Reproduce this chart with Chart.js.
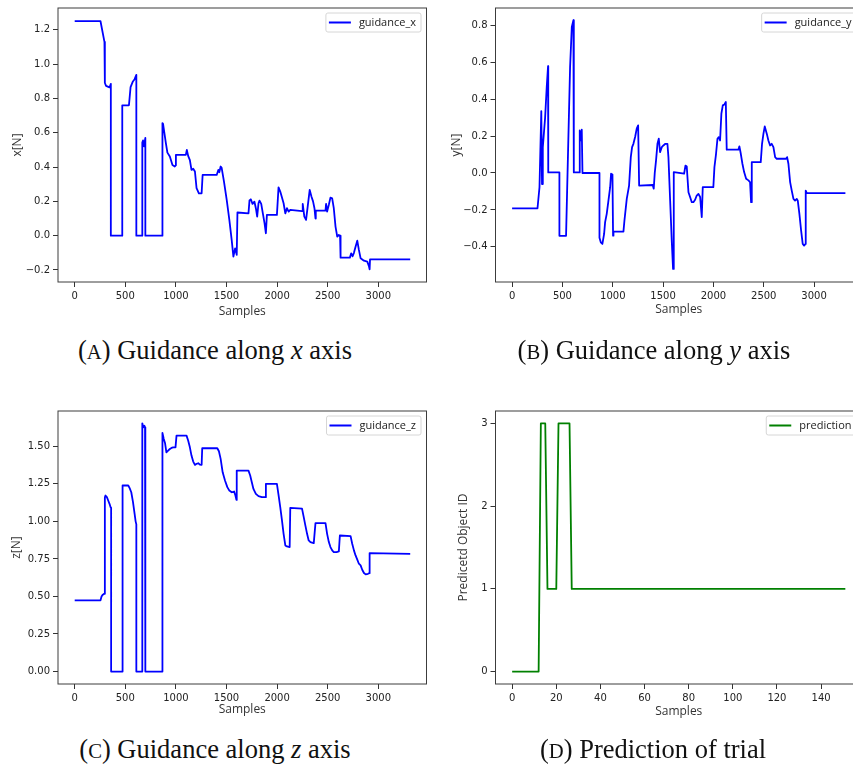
<!DOCTYPE html>
<html>
<head>
<meta charset="utf-8">
<script src="https://cdn.jsdelivr.net/npm/chart.js@4.4.1/dist/chart.umd.min.js"></script>
<style>
  html, body { margin: 0; padding: 0; background: #fff; }
  #page { position: relative; width: 853px; height: 767px; overflow: hidden; }
  .panel { position: absolute; }
  .caption {
    position: absolute; width: 430px; height: 30px; line-height: 30px;
    text-align: center; font-family: "Liberation Serif", serif; font-size: 26.5px; color: #111;
  }
  .sc { font-size: 0.78em; }
</style>
</head>
<body>
<div id="page">
  <div class="panel" style="left:0;top:0"><canvas id="guidanceXChart" width="432" height="330"></canvas></div>
  <div class="panel" style="left:430px;top:0"><canvas id="guidanceYChart" width="440" height="330"></canvas></div>
  <div class="panel" style="left:0;top:400px"><canvas id="guidanceZChart" width="432" height="330"></canvas></div>
  <div class="panel" style="left:430px;top:400px"><canvas id="predictionChart" width="440" height="330"></canvas></div>

  <div class="caption" style="left:0;top:335px">(<span class="sc">A</span>) Guidance along <i>x</i> axis</div>
  <div class="caption" style="left:439px;top:335px">(<span class="sc">B</span>) Guidance along <i>y</i> axis</div>
  <div class="caption" style="left:0;top:734px">(<span class="sc">C</span>) Guidance along <i>z</i> axis</div>
  <div class="caption" style="left:438px;top:734px">(<span class="sc">D</span>) Prediction of trial</div>
</div>

<script>
// guidance along x
const samplesX = [
  0, 255, 294, 298, 310, 344, 357, 357, 470, 470,
  536, 552, 575, 592, 609, 609, 668, 668, 675, 685,
  698, 698, 867, 867, 873, 900, 916, 940, 966, 989,
  999, 1000, 1098, 1108, 1121, 1138, 1154, 1171, 1188, 1204,
  1227, 1254, 1264, 1403, 1419, 1429, 1442, 1452, 1475, 1502,
  1528, 1551, 1568, 1585, 1601, 1608, 1717, 1727, 1740, 1757,
  1776, 1790, 1803, 1816, 1826, 1843, 1859, 1876, 1889, 1899,
  1998, 2014, 2031, 2048, 2064, 2081, 2097, 2114, 2130, 2246,
  2253, 2269, 2286, 2302, 2322, 2339, 2355, 2369, 2379, 2382,
  2478, 2484, 2494, 2511, 2527, 2544, 2560, 2577, 2594, 2610,
  2622, 2627, 2719, 2732, 2746, 2759, 2775, 2792, 2808, 2825,
  2858, 2891, 2908, 2914, 2918, 3315
];
const guidanceX = [
  1.25, 1.25, 1.13, 0.89, 0.873, 0.864, 0.885, 0, 0, 0.76,
  0.76, 0.866, 0.899, 0.912, 0.937, 0, 0, 0.543, 0.555, 0.52,
  0.57, 0, 0, 0.656, 0.652, 0.543, 0.484, 0.461, 0.412, 0.403,
  0.41, 0.471, 0.471, 0.5, 0.465, 0.44, 0.383, 0.39, 0.374, 0.277,
  0.247, 0.247, 0.354, 0.354, 0.383, 0.37, 0.403, 0.395, 0.315, 0.208,
  0.092, -0.025, -0.122, -0.074, -0.112, 0.135, 0.13, 0.205, 0.212, 0.185,
  0.198, 0.16, 0.111, 0.189, 0.204, 0.185, 0.13, 0.072, 0.014, 0.121,
  0.121, 0.282, 0.257, 0.222, 0.189, 0.13, 0.16, 0.14, 0.15, 0.143,
  0.185, 0.111, 0.092, 0.169, 0.267, 0.228, 0.2, 0.16, 0.1, 0.146,
  0.146, 0.185, 0.14, 0.18, 0.222, 0.218, 0.16, 0.053, -0.006, 0.004,
  0, -0.128, -0.128, -0.103, -0.12, -0.1, -0.064, -0.029, -0.083, -0.132,
  -0.146, -0.151, -0.18, -0.196, -0.138, -0.138
];

// guidance along y
const samplesY = [
  0, 252, 272, 290, 297, 305, 328, 344, 357, 359,
  470, 470, 536, 560, 576, 593, 609, 613, 669, 672,
  682, 692, 699, 868, 868, 881, 897, 914, 924, 940,
  957, 974, 983, 997, 1003, 1007, 1106, 1116, 1139, 1162,
  1179, 1192, 1205, 1222, 1238, 1252, 1262, 1397, 1407, 1417,
  1430, 1444, 1457, 1470, 1487, 1503, 1523, 1543, 1553, 1570,
  1586, 1599, 1606, 1709, 1722, 1735, 1752, 1768, 1785, 1801,
  1818, 1834, 1851, 1868, 1884, 1894, 1999, 2010, 2026, 2040,
  2053, 2066, 2079, 2093, 2109, 2123, 2132, 2248, 2258, 2272,
  2288, 2305, 2325, 2348, 2364, 2374, 2381, 2470, 2483, 2497,
  2510, 2530, 2546, 2563, 2579, 2596, 2613, 2629, 2722, 2732,
  2745, 2762, 2778, 2795, 2811, 2828, 2838, 2854, 2871, 2887,
  2901, 2914, 2917, 2927, 3311
];
const guidanceY = [
  -0.192, -0.192, -0.077, 0.335, -0.06, 0.14, 0.30, 0.466, 0.578, 0.003,
  0.003, -0.34, -0.34, 0.213, 0.574, 0.79, 0.827, 0.003, 0.003, 0.23,
  0.176, 0.234, 0, 0, -0.35, -0.375, -0.384, -0.33, -0.266, -0.221,
  -0.149, -0.077, -0.004, -0.008, -0.339, -0.317, -0.317, -0.257, -0.14, -0.068,
  0.086, 0.14, 0.158, 0.195, 0.24, 0.258, -0.068, -0.065, -0.085, 0,
  0.068, 0.158, 0.186, 0.113, 0.14, 0.149, 0.158, 0.158, 0.086, -0.149,
  -0.366, -0.519, 0.005, -0.004, 0.04, 0.035, -0.104, -0.13, -0.158, -0.158,
  -0.145, -0.122, -0.113, -0.13, -0.239, -0.077, -0.077, 0.032, 0.104, 0.185,
  0.194, 0.176, 0.321, 0.366, 0.371, 0.384, 0.126, 0.126, 0.144, 0.104,
  0.05, 0.005, -0.031, -0.04, -0.05, -0.158, 0.059, 0.059, 0.158, 0.213,
  0.252, 0.213, 0.176, 0.149, 0.158, 0.14, 0.086, 0.077, 0.077, 0.086,
  0.05, -0.049, -0.095, -0.14, -0.149, -0.14, -0.15, -0.221, -0.311, -0.384,
  -0.393, -0.384, -0.095, -0.109, -0.109
];

// guidance along z
const samplesZ = [
  0, 255, 265, 278, 291, 298, 304, 318, 331, 344,
  354, 360, 360, 470, 473, 529, 543, 559, 576, 592,
  602, 609, 609, 668, 668, 678, 688, 695, 698, 698,
  867, 867, 880, 893, 906, 923, 940, 956, 973, 996,
  1006, 1105, 1121, 1138, 1154, 1171, 1188, 1204, 1221, 1237,
  1254, 1260, 1409, 1425, 1442, 1462, 1485, 1508, 1528, 1551,
  1575, 1588, 1598, 1601, 1717, 1734, 1750, 1766, 1790, 1816,
  1849, 1882, 1889, 1998, 2015, 2031, 2048, 2064, 2081, 2097,
  2124, 2130, 2246, 2263, 2279, 2296, 2312, 2329, 2362, 2379,
  2478, 2494, 2511, 2527, 2544, 2560, 2587, 2610, 2620, 2726,
  2742, 2759, 2775, 2792, 2808, 2825, 2841, 2858, 2875, 2898,
  2911, 2914, 3315
];
const guidanceZ = [
  0.474, 0.474, 0.5, 0.512, 0.518, 1.161, 1.172, 1.161, 1.139, 1.117,
  1.095, 1.09, 0, 0, 1.239, 1.239, 1.221, 1.194, 1.128, 1.05,
  1.0, 0.98, 0, 0, 1.653, 1.626, 1.637, 1.626, 1.62, 0,
  0, 1.589, 1.549, 1.52, 1.46, 1.471, 1.482, 1.489, 1.493, 1.493,
  1.571, 1.571, 1.538, 1.493, 1.438, 1.398, 1.376, 1.383, 1.387, 1.378,
  1.376, 1.487, 1.487, 1.467, 1.416, 1.327, 1.272, 1.228, 1.205, 1.194,
  1.199, 1.172, 1.143, 1.338, 1.338, 1.305, 1.261, 1.216, 1.183, 1.168,
  1.161, 1.161, 1.25, 1.25, 1.172, 1.095, 1.006, 0.917, 0.84, 0.833,
  0.829, 1.09, 1.085, 1.028, 0.973, 0.917, 0.873, 0.862, 0.855, 0.988,
  0.988, 0.917, 0.862, 0.829, 0.807, 0.795, 0.795, 0.8, 0.906, 0.902,
  0.851, 0.807, 0.773, 0.745, 0.718, 0.707, 0.678, 0.656, 0.647, 0.651,
  0.655, 0.789, 0.784
];

// predicted object per sample (only the points where it changes)
const samplesPred = [0, 12, 13, 15, 16, 20, 21, 26, 27, 151];
const prediction  = [0, 0, 3, 3, 1, 1, 3, 3, 1, 1];

// tick positions
const xTicksGuidance = [0, 500, 1000, 1500, 2000, 2500, 3000];
const yTicksX = [-0.2, 0, 0.2, 0.4, 0.6, 0.8, 1.0, 1.2];
const yTicksY = [-0.4, -0.2, 0, 0.2, 0.4, 0.6, 0.8];
const yTicksZ = [0, 0.25, 0.5, 0.75, 1.0, 1.25, 1.5];
const xTicksPred = [0, 20, 40, 60, 80, 100, 120, 140];
const yTicksPred = [0, 1, 2, 3];

const tickFont = { family: 'DejaVu Sans', size: 10 };
const titleFont = { family: 'Open Sans', size: 12 };

// matplotlib style box: all four spines
const axesFrame = {
    id: 'axesFrame',
    afterDraw(chart) {
        const { ctx, chartArea: a } = chart;
        ctx.save();
        ctx.strokeStyle = '#3c3c3c';
        ctx.lineWidth = 1;
        ctx.strokeRect(a.left, a.top, a.right - a.left, a.bottom - a.top);
        ctx.restore();
    }
};

// legend in the upper right corner of the plot, with a light frame
const boxedLegend = {
    id: 'boxedLegend',
    afterDraw(chart) {
        const ds = chart.data.datasets[0];
        const { ctx, chartArea: a } = chart;
        ctx.save();
        ctx.font = '11px "Open Sans"';
        const textW = ctx.measureText(ds.label).width;
        const h = 19;
        const w = 3 + 22 + 8 + textW + 5;
        const x = a.right - 5.5 - w;
        const y = a.top + 5;
        ctx.beginPath();
        ctx.roundRect(x, y, w, h, 2);
        ctx.fillStyle = 'rgba(255, 255, 255, 0.8)';
        ctx.fill();
        ctx.strokeStyle = '#d6d6d6';
        ctx.lineWidth = 1;
        ctx.stroke();
        ctx.beginPath();
        ctx.moveTo(x + 3, y + h / 2);
        ctx.lineTo(x + 25, y + h / 2);
        ctx.strokeStyle = ds.borderColor;
        ctx.lineWidth = 2;
        ctx.stroke();
        ctx.fillStyle = '#222';
        ctx.textBaseline = 'middle';
        ctx.fillText(ds.label, x + 33, y + h / 2 + 0.5);
        ctx.restore();
    }
};

function fmt(v, decimals) {
    return v.toFixed(decimals).replace('-', '\u2212');
}

function buildPanel(id, cfg) {
    const canvas = document.getElementById(id);
    const ctx = canvas.getContext('2d');
    const W = canvas.width, H = canvas.height;
    const area = cfg.area;
    const points = cfg.samples.map((s, i) => ({ x: s, y: cfg.values[i] }));

    return new Chart(ctx, {
        type: 'line',
        data: {
            datasets: [{
                label: cfg.label,
                data: points,
                borderColor: cfg.color,
                backgroundColor: cfg.color,
                borderWidth: 1.8,
                borderJoinStyle: 'round',
                pointRadius: 0,
                tension: 0
            }]
        },
        options: {
            responsive: false,
            animation: false,
            events: [],
            layout: {
                padding: { left: 0, top: area.top, right: W - area.right, bottom: 0 }
            },
            plugins: {
                legend: { display: false },
                tooltip: { enabled: false }
            },
            scales: {
                x: {
                    type: 'linear',
                    min: cfg.xRange[0],
                    max: cfg.xRange[1],
                    afterBuildTicks: axis => { axis.ticks = cfg.xTicks.map(v => ({ value: v })); },
                    afterFit: axis => {
                        axis.height = H - area.bottom;
                        axis.paddingLeft = 0;
                        axis.paddingRight = 0;
                    },
                    grid: { drawOnChartArea: false, tickLength: 5, color: '#333' },
                    border: { display: false },
                    ticks: {
                        font: tickFont,
                        color: '#222',
                        padding: 3,
                        maxRotation: 0,
                        callback: v => fmt(v, cfg.xDecimals)
                    },
                    title: {
                        display: true,
                        text: 'Samples',
                        font: titleFont,
                        color: '#333',
                        padding: { top: 0, bottom: cfg.xTitlePad }
                    }
                },
                y: {
                    type: 'linear',
                    min: cfg.yRange[0],
                    max: cfg.yRange[1],
                    afterBuildTicks: axis => { axis.ticks = cfg.yTicks.map(v => ({ value: v })); },
                    afterFit: axis => {
                        axis.width = area.left;
                        axis.paddingTop = 0;
                        axis.paddingBottom = 0;
                    },
                    grid: { drawOnChartArea: false, tickLength: 5, color: '#333' },
                    border: { display: false },
                    ticks: {
                        font: tickFont,
                        color: '#222',
                        padding: 3,
                        callback: v => fmt(v, cfg.yDecimals)
                    },
                    title: {
                        display: true,
                        text: cfg.yTitle,
                        font: titleFont,
                        color: '#333',
                        padding: { top: cfg.yTitlePad, bottom: 0 }
                    }
                }
            }
        },
        plugins: [axesFrame, boxedLegend]
    });
}

const guidanceXChart = buildPanel('guidanceXChart', {
    label: 'guidance_x', color: '#0000ff',
    samples: samplesX, values: guidanceX,
    xRange: [-165, 3476], yRange: [-0.27, 1.327],
    xTicks: xTicksGuidance, yTicks: yTicksX, xDecimals: 0, yDecimals: 1,
    yTitle: 'x[N]',
    area: { left: 58, top: 8, right: 426.5, bottom: 282 },
    xTitlePad: 11, yTitlePad: 10
});

const guidanceYChart = buildPanel('guidanceYChart', {
    label: 'guidance_y', color: '#0000ff',
    samples: samplesY, values: guidanceY,
    xRange: [-165, 3476], yRange: [-0.59, 0.893],
    xTicks: xTicksGuidance, yTicks: yTicksY, xDecimals: 0, yDecimals: 1,
    yTitle: 'y[N]',
    area: { left: 65.5, top: 8, right: 432, bottom: 282 },
    xTitlePad: 13, yTitlePad: 19.5
});

const guidanceZChart = buildPanel('guidanceZChart', {
    label: 'guidance_z', color: '#0000ff',
    samples: samplesZ, values: guidanceZ,
    xRange: [-165, 3476], yRange: [-0.083, 1.735],
    xTicks: xTicksGuidance, yTicks: yTicksZ, xDecimals: 0, yDecimals: 2,
    yTitle: 'z[N]',
    area: { left: 58, top: 11, right: 426.5, bottom: 284 },
    xTitlePad: 12.8, yTitlePad: 9.5
});

const predictionChart = buildPanel('predictionChart', {
    label: 'prediction', color: '#008000',
    samples: samplesPred, values: prediction,
    xRange: [-7.55, 158.55], yRange: [-0.15, 3.15],
    xTicks: xTicksPred, yTicks: yTicksPred, xDecimals: 0, yDecimals: 0,
    yTitle: 'Predicetd Object ID',
    area: { left: 65.5, top: 11, right: 432, bottom: 284 },
    xTitlePad: 11, yTitlePad: 26
});
</script>
</body>
</html>
